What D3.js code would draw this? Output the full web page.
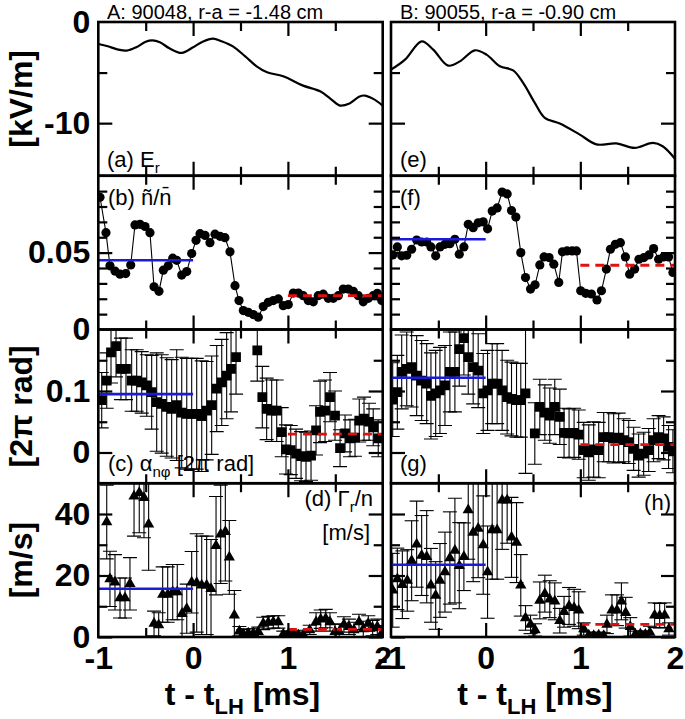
<!DOCTYPE html>
<html><head><meta charset="utf-8">
<script src="https://cdn.jsdelivr.net/npm/d3@7"></script>
<style>
body{margin:0;background:#fff}
svg{display:block}
text{font-family:"Liberation Sans",Arial,Helvetica,sans-serif}
</style>
</head><body><div id="chart"></div>
<script>
// ---------------- DATA ----------------
const titles = ["A: 90048, r-a = -1.48 cm", "B: 90055, r-a = -0.90 cm"];
const xTickLabels = ["-1", "0", "1", "2"];
const xTickVals = [-1, 0, 1, 2];

// (a),(e) E_r [kV/m]
const erT_A = [-1.0,-0.9,-0.8,-0.7,-0.6,-0.5,-0.43,-0.35,-0.25,-0.12,0.0,0.1,0.21,0.3,0.42,0.55,0.67,0.78,0.95,1.16,1.34,1.45,1.55,1.65,1.75,1.81,1.9,2.0];
const erV_A = [-2.17,-2.4,-2.7,-2.83,-2.5,-1.95,-1.81,-2.0,-2.6,-3.06,-2.5,-1.95,-1.65,-1.9,-2.41,-3.4,-4.38,-4.97,-5.37,-6.29,-6.85,-7.6,-8.26,-8.05,-7.4,-7.27,-7.6,-8.26];
const erT_B = [-1.0,-0.852,-0.676,-0.554,-0.396,-0.272,-0.114,0.009,0.15,0.29,0.396,0.519,0.625,0.783,0.994,1.17,1.38,1.574,1.767,1.87,2.0];
const erV_B = [-4.71,-3.72,-1.91,-2.73,-4.31,-3.89,-2.8,-3.23,-4.38,-4.78,-6.02,-8.0,-9.48,-10.04,-11.13,-12.1,-12.0,-12.44,-11.95,-12.28,-13.52];

// (b),(f) n~/n
const bT = [-0.982,-0.919,-0.877,-0.824,-0.771,-0.711,-0.658,-0.613,-0.56,-0.507,-0.455,-0.412,-0.36,-0.314,-0.262,-0.215,-0.173,-0.12,-0.067,-0.015,0.031,0.073,0.126,0.178,0.231,0.284,0.336,0.389,0.442,0.484,0.53,0.582,0.635,0.688,0.74,0.793,0.846,0.899,0.951,1.004,1.057,1.11,1.162,1.215,1.268,1.32,1.373,1.426,1.479,1.532,1.584,1.637,1.69,1.743,1.795,1.848,1.9,1.943,1.99];
const bV = [0.086,0.063,0.0414,0.038,0.036,0.0364,0.042,0.068,0.0684,0.067,0.063,0.0278,0.0248,0.0386,0.0414,0.0464,0.045,0.0354,0.0377,0.0494,0.058,0.0623,0.0612,0.0565,0.062,0.0606,0.0597,0.0505,0.0285,0.0188,0.0123,0.0112,0.0097,0.008,0.0149,0.0177,0.0188,0.0199,0.0155,0.0162,0.0237,0.0237,0.022,0.0188,0.018,0.022,0.023,0.0203,0.0203,0.022,0.0263,0.0263,0.0248,0.022,0.018,0.0203,0.022,0.0235,0.0188];
const fT = [-0.982,-0.933,-0.887,-0.834,-0.782,-0.729,-0.676,-0.623,-0.578,-0.528,-0.483,-0.43,-0.378,-0.325,-0.279,-0.23,-0.184,-0.132,-0.079,-0.026,0.02,0.069,0.121,0.174,0.227,0.273,0.319,0.371,0.421,0.474,0.522,0.572,0.617,0.67,0.72,0.772,0.811,0.86,0.913,0.959,1.004,1.057,1.117,1.176,1.223,1.275,1.318,1.37,1.423,1.476,1.521,1.574,1.619,1.672,1.725,1.774,1.827,1.88,1.932,1.978];
const fV = [0.0485,0.0537,0.0479,0.0483,0.0522,0.0582,0.0569,0.0569,0.0537,0.0479,0.0537,0.0554,0.0558,0.0587,0.049,0.0537,0.0684,0.0662,0.0694,0.07,0.0655,0.077,0.0791,0.0894,0.0882,0.0774,0.0731,0.05,0.0338,0.0263,0.0291,0.042,0.0472,0.0468,0.0425,0.0306,0.0505,0.0511,0.0511,0.0511,0.0252,0.0235,0.0231,0.0192,0.0252,0.0393,0.0522,0.0554,0.0565,0.0472,0.036,0.0393,0.0457,0.0468,0.0485,0.0526,0.0457,0.0472,0.0472,0.0371];

// (c),(g) alpha_n_phi [2pi rad] with error
const cT = [-0.964,-0.911,-0.866,-0.813,-0.761,-0.708,-0.648,-0.595,-0.542,-0.489,-0.437,-0.384,-0.331,-0.278,-0.226,-0.173,-0.12,-0.067,-0.015,0.038,0.091,0.143,0.196,0.249,0.302,0.354,0.4,0.453,0.677,0.73,0.776,0.829,0.882,0.935,0.98,1.03,1.086,1.139,1.191,1.244,1.297,1.339,1.392,1.444,1.497,1.55,1.603,1.655,1.708,1.753,1.803,1.856,1.9,1.953];
const cV = [0.085,0.117,0.163,0.173,0.136,0.136,0.117,0.117,0.114,0.109,0.098,0.082,0.079,0.074,0.071,0.077,0.065,0.063,0.063,0.063,0.059,0.068,0.077,0.104,0.114,0.125,0.136,0.155,0.166,0.09,0.071,0.068,0.068,0.033,0.005,0.004,-0.002,-0.006,-0.007,-0.005,0.036,0.066,0.068,0.09,0.06,0.007,0.031,0.023,0.024,0.052,0.055,0.05,0.041,0.023];
const cE = [0.045,0.045,0.05,0.05,0.05,0.05,0.05,0.05,0.05,0.05,0.06,0.08,0.08,0.08,0.08,0.09,0.09,0.09,0.09,0.09,0.09,0.08,0.08,0.07,0.07,0.07,0.07,0.06,0.05,0.05,0.05,0.05,0.05,0.04,0.04,0.04,0.04,0.04,0.04,0.04,0.04,0.05,0.05,0.04,0.04,0.03,0.03,0.03,0.03,0.035,0.035,0.03,0.03,0.03];
const gT = [-0.982,-0.933,-0.887,-0.834,-0.782,-0.729,-0.676,-0.623,-0.578,-0.528,-0.483,-0.43,-0.378,-0.325,-0.279,-0.23,-0.184,-0.132,-0.079,-0.026,0.02,0.069,0.121,0.174,0.227,0.273,0.326,0.371,0.421,0.519,0.572,0.625,0.677,0.73,0.783,0.828,0.881,0.934,0.983,1.036,1.089,1.141,1.194,1.247,1.3,1.352,1.405,1.458,1.511,1.563,1.616,1.669,1.722,1.774,1.827,1.88,1.932,1.978];
const gV = [0.086,0.098,0.131,0.136,0.139,0.125,0.117,0.112,0.092,0.096,0.101,0.109,0.131,0.131,0.168,0.186,0.155,0.139,0.133,0.096,0.101,0.112,0.112,0.101,0.09,0.087,0.085,0.085,0.096,0.031,0.074,0.065,0.06,0.074,0.058,0.032,0.031,0.032,0.029,0.004,0.0,0.005,0.004,0.025,0.025,0.023,0.024,0.02,0.017,0.006,-0.005,-0.002,0.004,0.02,0.025,0.023,0.009,0.002];
const gE = [0.06,0.06,0.06,0.06,0.065,0.065,0.065,0.065,0.07,0.07,0.07,0.065,0.065,0.065,0.06,0.06,0.06,0.06,0.06,0.065,0.065,0.065,0.065,0.065,0.06,0.06,0.06,0.06,0.13,0.05,0.045,0.045,0.045,0.045,0.045,0.04,0.04,0.04,0.04,0.045,0.045,0.045,0.045,0.04,0.04,0.04,0.04,0.035,0.035,0.035,0.035,0.035,0.035,0.035,0.035,0.035,0.035,0.035];

// (d),(h) Gamma_r/n [m/s] with error
const dT = [-0.911,-0.877,-0.824,-0.771,-0.718,-0.666,-0.623,-0.568,-0.518,-0.469,-0.412,-0.363,-0.321,-0.268,-0.215,-0.167,-0.117,-0.067,-0.015,0.038,0.091,0.143,0.189,0.242,0.291,0.34,0.382,0.435,0.488,0.53,0.582,0.635,0.688,0.74,0.793,0.846,0.899,0.951,1.004,1.057,1.11,1.163,1.23,1.297,1.346,1.399,1.444,1.497,1.542,1.591,1.644,1.697,1.75,1.795,1.848,1.894,1.943,1.99];
const dV = [37.4,18.9,17.8,12.7,12.7,17.3,45.8,46.9,45.3,36.7,4.4,3.9,13.8,13.8,14.6,14.6,7.6,9.2,17.8,17.6,16.8,16.8,15.7,29.7,33.4,34.2,25.9,7.1,1.9,0.9,1.2,1.2,1.7,4.4,4.7,4.9,4.9,0.9,0.9,0.9,0.6,0.7,2.3,4.9,5.8,6.0,4.9,1.7,1.7,4.1,3.3,2.3,4.9,2.6,4.4,2.9,3.3,1.2];
const dE = [12,9,9,6.5,6.5,8.5,13,13,13,15,4,4,9,9,9,9,8,8,10,16,16,16,16,16,16,16,12,8,1.5,1.5,1.5,1.5,1.5,2,2,2,2,1,1,1,1,1.5,1.5,3,3,3,3,2.5,2.5,2.5,2.5,2.5,2.5,2.5,2.5,2.5,2.5,2.5];
const hT = [-0.982,-0.933,-0.88,-0.828,-0.782,-0.729,-0.676,-0.623,-0.578,-0.528,-0.483,-0.43,-0.378,-0.325,-0.279,-0.23,-0.184,-0.132,-0.079,-0.026,0.02,0.069,0.121,0.174,0.227,0.273,0.326,0.371,0.421,0.474,0.522,0.572,0.625,0.677,0.73,0.783,0.828,0.881,0.934,0.983,1.036,1.089,1.141,1.194,1.247,1.281,1.334,1.387,1.434,1.479,1.528,1.581,1.634,1.687,1.735,1.785,1.838,1.891,1.936];
const hV = [15.2,18.9,17,18.4,24.8,30.2,26.5,26.1,16.8,13.5,18.4,21.1,25.7,28.1,23.2,26.1,41.3,34,35.3,29.9,21.1,34.8,34.8,44.5,44.5,32.4,30.7,16.8,6.2,4.1,2.3,11.9,14.1,12.3,11.6,5.3,8.2,10.1,9.5,8.7,2.6,0.6,0.4,0.6,0.4,4.1,8.7,8.7,11.6,7.9,3.3,0.9,1.0,0.8,1.5,7.1,6.9,7.1,2.6];
const hE = [12,10,11,10,13,14,13,15,12,11,12,13,15,17,14,11,16,16,16,16,15,16,16,16,14,13,13,10,4,3,2,6,6,6,6,4,5,6,6,6,2,1,1,1,1,3,5,5,6,5,3,1,1,1,2,4,4,4,2];

// pre (blue) and post (red dashed) averages: [b, c, d] for A and B
const preMeanA = [0.045, 0.095, 15.7];
const postMeanA = [0.022, 0.030, 2.5];
const preMeanB = [0.0587, 0.1216, 23.5];
const postMeanB = [0.0418, 0.0128, 4.1];

// ---------------- LAYOUT ----------------
const W = 685, H = 719;
const colX = [[98.3, 382.7], [391, 675]];
const rowY = [22, 175.75, 329.5, 483.25, 637];
const yDomains = [[-15.2, 0], [0, 0.1], [-0.05, 0.2], [0, 50]];
const yMajor = [[-10], [0.05], [0, 0.1], [0, 20, 40]];
const yMinor = [[-5], [0.01,0.02,0.03,0.04,0.06,0.07,0.08,0.09], [0.05, 0.15], [10, 30]];
const yLabVals = [[0, -10], [0, 0.05], [0, 0.1], [0, 20, 40]];
const yLabText = [["0", "-10"], ["0", "0.05"], ["0", "0.1"], ["0", "20", "40"]];
const xMajor = [0, 1], xMinor = [-0.5, 0.5, 1.5];
const MAJ = 14, MIN = 9;
const FONT = '"Liberation Sans",Arial,Helvetica,sans-serif';

const svg = d3.select("#chart").append("svg").attr("width", W).attr("height", H);

const panels = [];
for (let c = 0; c < 2; c++) {
  for (let r = 0; r < 4; r++) {
    const x = d3.scaleLinear().domain([-1, 2]).range(colX[c]);
    const y = d3.scaleLinear().domain(yDomains[r]).range([rowY[r + 1], rowY[r]]);
    const id = `clip-${c}-${r}`;
    svg.append("clipPath").attr("id", id).append("rect")
      .attr("x", colX[c][0]).attr("y", rowY[r])
      .attr("width", colX[c][1] - colX[c][0]).attr("height", rowY[r + 1] - rowY[r]);
    const g = svg.append("g").attr("clip-path", `url(#${id})`);
    panels.push({c, r, x, y, g});
  }
}
const P = (c, r) => panels.find(p => p.c === c && p.r === r);

// ---- E_r curves
[[erT_A, erV_A], [erT_B, erV_B]].forEach(([T, V], c) => {
  const p = P(c, 0);
  const line = d3.line().x((d, i) => p.x(T[i])).y(d => p.y(d)).curve(d3.curveCatmullRom.alpha(0.5));
  p.g.append("path").attr("d", line(V)).attr("fill", "none").attr("stroke", "#000").attr("stroke-width", 2.2);
});

// ---- n~/n
[[bT, bV], [fT, fV]].forEach(([T, V], c) => {
  const p = P(c, 1);
  const line = d3.line().x((d, i) => p.x(T[i])).y(d => p.y(d));
  p.g.append("path").attr("d", line(V)).attr("fill", "none").attr("stroke", "#000").attr("stroke-width", 1.1);
  p.g.selectAll("circle.pt").data(V).join("circle")
    .attr("cx", (d, i) => p.x(T[i])).attr("cy", d => p.y(d)).attr("r", 4.6).attr("fill", "#000");
});

// ---- error bar panels
function errPanel(p, T, V, E, sym, size) {
  const cap = 7;
  const eb = p.g.append("g").attr("stroke", "#000").attr("stroke-width", 1.1).attr("fill", "none");
  V.forEach((v, i) => {
    const xx = p.x(T[i]), y1 = p.y(v + E[i]), y2 = p.y(v - E[i]);
    eb.append("line").attr("x1", xx).attr("x2", xx).attr("y1", y1).attr("y2", y2);
    eb.append("line").attr("x1", xx - cap).attr("x2", xx + cap).attr("y1", y1).attr("y2", y1);
    eb.append("line").attr("x1", xx - cap).attr("x2", xx + cap).attr("y1", y2).attr("y2", y2);
  });
  const s = d3.symbol().type(sym).size(size);
  p.g.selectAll("path.mk").data(V).join("path").attr("class", "mk")
    .attr("d", s).attr("fill", "#000")
    .attr("transform", (d, i) => `translate(${p.x(T[i])},${p.y(d)})`);
}
errPanel(P(0, 2), cT, cV, cE, d3.symbolSquare, 95);
errPanel(P(1, 2), gT, gV, gE, d3.symbolSquare, 95);
errPanel(P(0, 3), dT, dV, dE, d3.symbolTriangle, 55);
errPanel(P(1, 3), hT, hV, hE, d3.symbolTriangle, 55);

// ---- mean lines
[[preMeanA, postMeanA], [preMeanB, postMeanB]].forEach(([pre, post], c) => {
  [1, 2, 3].forEach((r, k) => {
    const p = P(c, r);
    p.g.append("line").attr("x1", p.x(-1)).attr("x2", p.x(0))
      .attr("y1", p.y(pre[k])).attr("y2", p.y(pre[k]))
      .attr("stroke", "#1a1adb").attr("stroke-width", 2.6);
    p.g.append("line").attr("x1", p.x(1)).attr("x2", p.x(2))
      .attr("y1", p.y(post[k])).attr("y2", p.y(post[k]))
      .attr("stroke", "#e01010").attr("stroke-width", 2.8).attr("stroke-dasharray", "9,6");
  });
});

// ---- axes (inward ticks) and frames
panels.forEach(p => {
  const {c, r, x, y} = p;
  const [x0, x1] = colX[c], y0 = rowY[r], y1 = rowY[r + 1];
  const ax = svg.append("g").attr("class", "ax");
  const add = (axis, tx, ty) => ax.append("g").attr("transform", `translate(${tx},${ty})`).call(axis);
  add(d3.axisLeft(y).tickValues(yMajor[r]).tickSize(-MAJ).tickFormat(""), x0, 0);
  add(d3.axisLeft(y).tickValues(yMinor[r]).tickSize(-MIN).tickFormat(""), x0, 0);
  add(d3.axisRight(y).tickValues(yMajor[r]).tickSize(-MAJ).tickFormat(""), x1, 0);
  add(d3.axisRight(y).tickValues(yMinor[r]).tickSize(-MIN).tickFormat(""), x1, 0);
  add(d3.axisTop(x).tickValues(xMajor).tickSize(-MAJ).tickFormat(""), 0, y0);
  add(d3.axisTop(x).tickValues(xMinor).tickSize(-MIN).tickFormat(""), 0, y0);
  add(d3.axisBottom(x).tickValues(xMajor).tickSize(-MAJ).tickFormat(""), 0, y1);
  add(d3.axisBottom(x).tickValues(xMinor).tickSize(-MIN).tickFormat(""), 0, y1);
  ax.selectAll(".domain").remove();
  ax.selectAll(".tick line").attr("stroke", "#000").attr("stroke-width", 2.2);
  if (c === 0) {
    const la = add(d3.axisLeft(y).tickValues(yLabVals[r]).tickSize(0).tickPadding(8)
      .tickFormat(d => yLabText[r][yLabVals[r].indexOf(d)]), x0, 0);
    la.select(".domain").remove();
    la.selectAll("text").attr("font-family", FONT).attr("font-weight", "bold").attr("font-size", 32).attr("fill", "#000");
  }
  if (r === 3) {
    const lb = add(d3.axisBottom(x).tickValues(xTickVals).tickSize(0).tickPadding(9)
      .tickFormat(d => xTickLabels[xTickVals.indexOf(d)]), 0, y1);
    lb.select(".domain").remove();
    lb.selectAll("text").attr("font-family", FONT).attr("font-weight", "bold").attr("font-size", 32).attr("fill", "#000");
  }
  svg.append("rect").attr("x", x0).attr("y", y0).attr("width", x1 - x0).attr("height", y1 - y0)
    .attr("fill", "none").attr("stroke", "#000").attr("stroke-width", 2.6);
});

// ---- titles
titles.forEach((t, c) => {
  svg.append("text").attr("x", c === 0 ? 107 : 400).attr("y", 18.5)
    .attr("font-size", 20).attr("fill", "#000").text(t);
});

// ---- y axis titles
[["[kV/m]", 0], ["[2\u03C0 rad]", 2], ["[m/s]", 3]].forEach(([t, r]) => {
  const cy = (rowY[r] + rowY[r + 1]) / 2;
  svg.append("text").attr("transform", `translate(32,${cy}) rotate(-90)`)
    .attr("text-anchor", "middle").attr("font-size", 32).attr("font-weight", "bold").text(t);
});

// ---- x axis titles
colX.forEach(([a, b]) => {
  const t = svg.append("text").attr("x", (a + b) / 2 + 2).attr("y", 705)
    .attr("text-anchor", "middle").attr("font-size", 32).attr("font-weight", "bold");
  t.append("tspan").text("t - t");
  t.append("tspan").attr("font-size", 22).attr("dy", 9).text("LH");
  t.append("tspan").attr("dy", -9).text(" [ms]");
});

// ---- panel labels
const PL = 22;
function lab(x, y, parts, anchor) {
  const t = svg.append("text").attr("x", x).attr("y", y).attr("font-size", PL).attr("text-anchor", anchor || "start");
  parts.forEach(([s, dy, fs]) => {
    const ts = t.append("tspan").text(s);
    if (dy) ts.attr("dy", dy);
    if (fs) ts.attr("font-size", fs);
  });
  return t;
}
lab(107, 167, [["(a) E"], ["r", 6, 15], ["", -6]]);
lab(400, 167, [["(e)"]]);
lab(108, 205, [["(b) \u00F1/n\u0304"]]);
lab(400, 205, [["(f)"]]);
lab(108, 471, [["(c) \u03B1"], ["n\u03C6", 6, 15], [" [2\u03C0 rad]", -6]]);
lab(400, 471, [["(g)"]]);
lab(373, 506, [["(d) \u0393"], ["r", 6, 15], ["/n", -6]], "end");
lab(370, 540, [["[m/s]"]], "end");
lab(671, 510, [["(h)"]], "end");
</script></body></html>
